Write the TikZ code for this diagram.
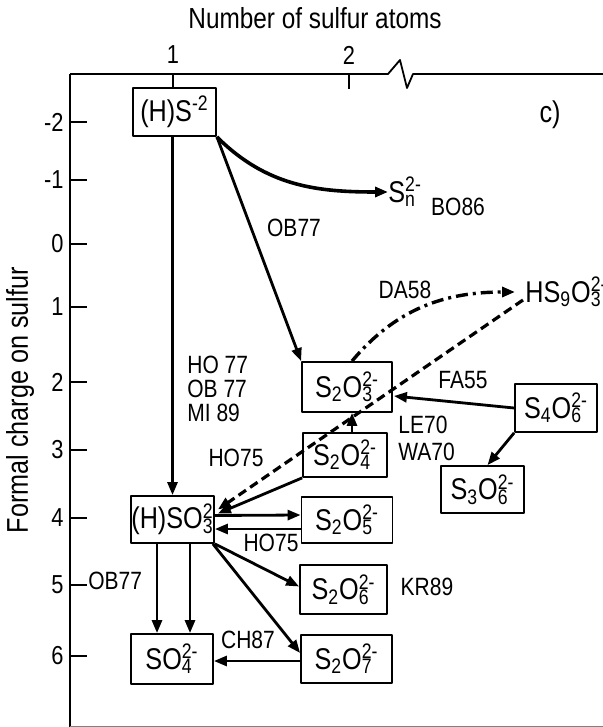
\documentclass[tikz,border=0pt]{standalone}
\usepackage{fontspec}
\setmainfont{Liberation Sans}
\newfontfamily\narrowfont[FakeStretch=0.84]{Liberation Sans}
\usetikzlibrary{arrows.meta,calc}
\newcommand{\ionsub}[2]{\rlap{\textsubscript{#1}}\textsuperscript{#2}}
\begin{document}
\begin{tikzpicture}[x=0.5pt, y=-0.5pt, line join=round,
    box/.style={draw, line width=0.9pt, inner sep=0pt, font=\narrowfont\fontsize{15}{17}\selectfont},
    species/.style={inner sep=0pt, font=\narrowfont\fontsize{15}{17}\selectfont},
    lbl/.style={inner sep=0pt, font=\narrowfont\fontsize{12.5}{12}\selectfont},
    ax/.style={inner sep=0pt, font=\narrowfont\fontsize{13}{14}\selectfont},
    arr/.style={line width=1.4pt, -{Triangle[length=6.5pt,width=5pt]}},
    dashdot/.style={line width=1.7pt, dash pattern=on 6pt off 2.5pt on 1.5pt off 2.5pt},
    dashlong/.style={line width=1.6pt, dash pattern=on 4.5pt off 2.5pt}]
    \useasboundingbox (0,0) rectangle (603,727);

    % 1. 坐标轴与刻度
    \draw[line width=0.9pt] (70,74) -- (70,727);
    \draw[line width=0.9pt] (70,74) -- (388,74) -- (400,60) -- (407,88) -- (413,74) -- (603,74);
    \draw[line width=0.5pt, black!50] (70,726) -- (603,726);
    \draw[line width=0.8pt] (173,74) -- (173,88);
    \draw[line width=0.8pt] (349,74) -- (349,89);
    \node[ax] (n1) at (173,55) {1};
    \node[ax] (n2) at (349,55) {2};
    \foreach \c/\y [count=\i] in {-2/122,-1/180,0/244,1/307,2/382,3/450,4/518,5/585,6/656}
    {
        \draw[line width=0.8pt] (70,\y) -- (87,\y);
        \node[ax, anchor=east] (tick\i) at (64,\y) {\c};
    }
    \node[ax, font=\narrowfont\fontsize{14.5}{16}\selectfont] (xtitle) at (315,18) {Number of sulfur atoms};
    \node[ax, font=\narrowfont\fontsize{15}{16}\selectfont, rotate=90] (ytitle) at (20,400) {Formal charge on sulfur};
    \node[ax, font=\narrowfont\fontsize{15}{17}\selectfont] (panel) at (550,115) {c)};

    % 2. 方框中的物种
    \node[box, minimum width=41.5pt, minimum height=24pt] (hs) at (174.5,112) {(H)S\textsuperscript{-2}};
    \node[box, minimum width=45pt, minimum height=25pt] (s2o3) at (347,387) {S\textsubscript{2}O\ionsub{3}{2-}};
    \node[box, minimum width=41pt, minimum height=24pt] (s4o6) at (556,408) {S\textsubscript{4}O\ionsub{6}{2-}};
    \node[box, minimum width=42pt, minimum height=22pt] (s2o4) at (345,455) {S\textsubscript{2}O\ionsub{4}{2-}};
    \node[box, minimum width=41.5pt, minimum height=23.5pt] (s3o6) at (482.5,489.5) {S\textsubscript{3}O\ionsub{6}{2-}};
    \node[box, minimum width=41.5pt, minimum height=23.5pt] (hso3) at (172.5,519.5) {(H)SO\ionsub{3}{2}};
    \node[box, minimum width=45.5pt, minimum height=23pt] (s2o5) at (347,520) {S\textsubscript{2}O\ionsub{5}{2-}};
    \node[box, minimum width=43.5pt, minimum height=24.5pt] (s2o6) at (343.5,589.5) {S\textsubscript{2}O\ionsub{6}{2-}};
    \node[box, minimum width=41pt, minimum height=25pt] (so4) at (172,659) {SO\ionsub{4}{2-}};
    \node[box, minimum width=45.5pt, minimum height=24pt] (s2o7) at (346.5,659) {S\textsubscript{2}O\ionsub{7}{2-}};

    % 3. 无框物种
    \node[species, anchor=west] (sn) at (388,192) {S\ionsub{n}{2-}};
    \node[species, anchor=west] (hs9o3) at (525,292) {HS\textsubscript{9}O\ionsub{3}{2-}};

    % 4. 反应箭头
    \draw[arr] (hso3.north |- hs.south) -- (hso3.north);
    \draw[arr] (hs.south east) -- (s2o3.north west);
    \draw[arr, line width=1.8pt] (hs.south east) to[out=-45, in=180] (sn.west);
    \draw[arr, dashdot] ($(s2o3.north)+(5,0)$) to[out=50, in=180] ($(hs9o3.west)+(-10,0)$);
    \draw[arr, dashlong] ($(hs9o3.west)+(-2,8)$) -- ($(hso3.east)+(3,-10)$);
    \draw[arr] (s4o6.west) -- ($(s2o3.east)+(1,9)$);
    \draw[arr] (s4o6.south west) -- ($(s3o6.north)+(5,0)$);
    \draw[arr] ($(s2o4.north)+(7,0)$) -- ($(s2o3.south)+(5,0)$);
    \draw[arr] (s2o4.south west) -- ($(hso3.east)+(3,-6)$);
    \draw[arr] ($(hso3.east)+(0,-4)$) -- ($(s2o5.west)+(0,-5)$);
    \draw[arr] ($(s2o5.west)+(0,9)$) -- ($(hso3.east)+(0,9.5)$);
    \draw[arr] (hso3.south east) -- ($(s2o6.west)+(0,-3)$);
    \draw[arr] ($(hso3.south east)+(-2,0)$) -- ($(s2o7.west)+(0,-6)$);
    \draw[arr] ($(hso3.south)+(-15.5,0)$) -- ($(so4.north)+(-15,0)$);
    \draw[arr] ($(hso3.south)+(17.5,0)$) -- ($(so4.north)+(18,0)$);
    \draw[arr] ($(s2o7.west)+(0,2)$) -- ($(so4.east)+(0,2)$);

    % 5. 文献标注
    \node[lbl] (ob77a) at (294,228) {OB77};
    \node[lbl] (bo86) at (458,207) {BO86};
    \node[lbl] (da58) at (405,290) {DA58};
    \node[lbl, align=left, anchor=west, font=\narrowfont\fontsize{12.5}{12}\selectfont] (ho77) at (187,389) {HO 77\\OB 77\\MI 89};
    \node[lbl] (fa55) at (463,380) {FA55};
    \node[lbl, align=left, anchor=west, font=\narrowfont\fontsize{12.5}{13.5}\selectfont] (le70) at (398,438) {LE70\\WA70};
    \node[lbl] (ho75a) at (236,458) {HO75};
    \node[lbl] (ho75b) at (271,543) {HO75};
    \node[lbl, anchor=west] (ob77b) at (88,581) {OB77};
    \node[lbl] (kr89) at (427,587) {KR89};
    \node[lbl] (ch87) at (248,640) {CH87};

\end{tikzpicture}
\end{document}
